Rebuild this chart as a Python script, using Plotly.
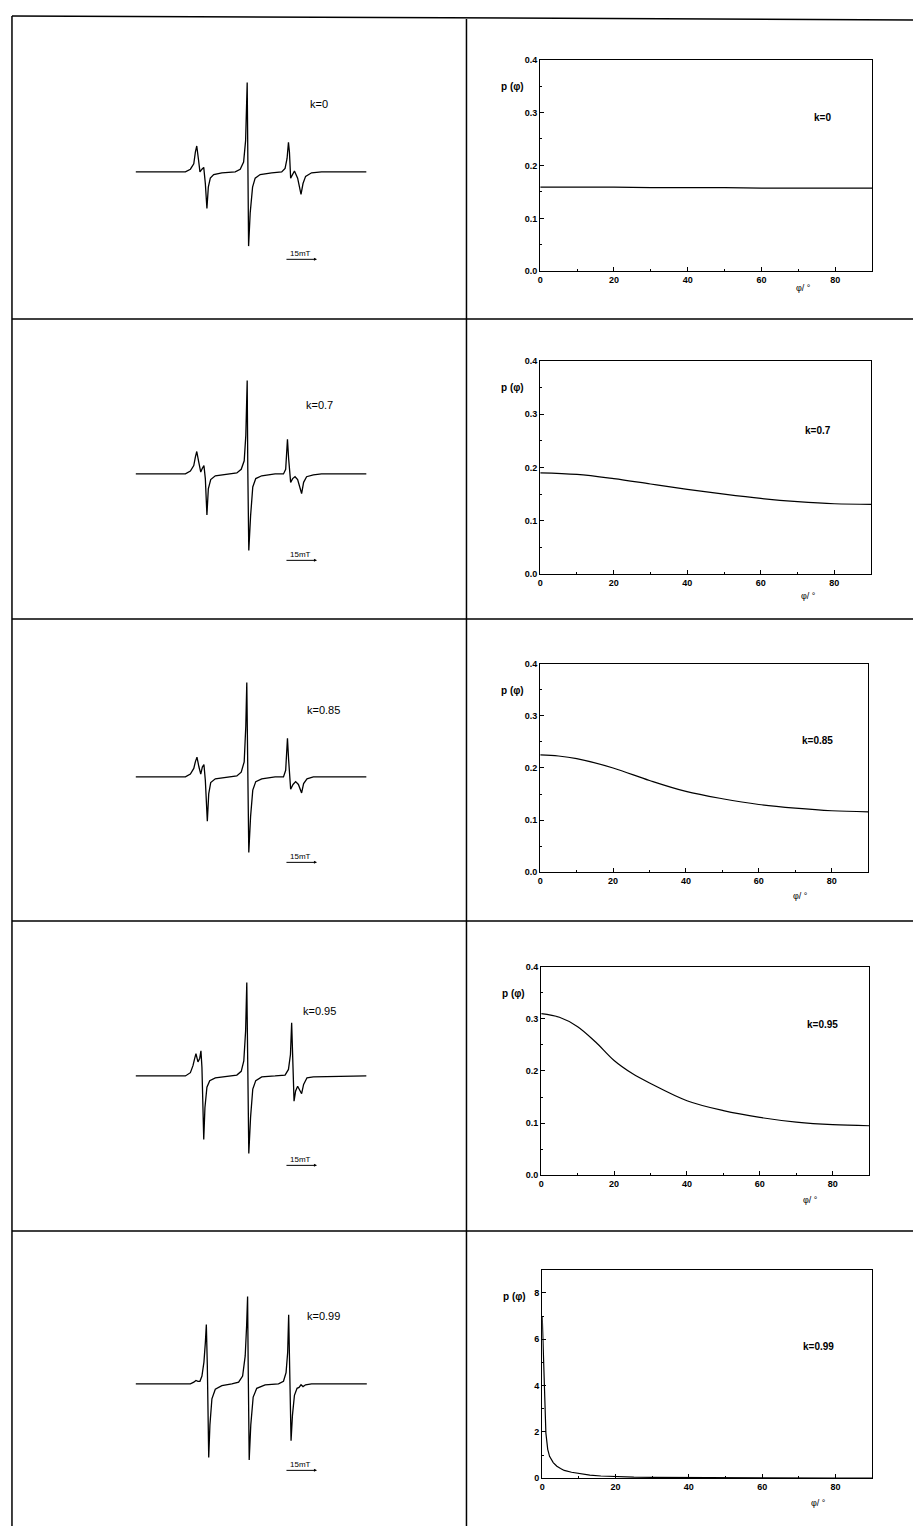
import plotly.graph_objects as go

W, H = 913, 1531

# ---------------- data ----------------
k_labels = ["k=0", "k=0.7", "k=0.85", "k=0.95", "k=0.99"]
scale_label = "15mT"

# EPR spectra (field in mT from left end, amplitude normalized to central peak)
spec_k0_B = [0, 2.5, 2.75, 2.92, 3.0, 3.07, 3.15, 3.23, 3.33, 3.42, 3.5, 3.58, 3.65, 3.75, 3.92, 4.33, 5.0,
             5.25, 5.42, 5.52, 5.6, 5.63, 5.67, 5.75, 5.87, 6.0, 6.25, 6.83, 7.33, 7.5, 7.6, 7.67, 7.72,
             7.78, 7.97, 8.13, 8.3, 8.4, 8.53, 8.83, 9.33, 11.58]
spec_k0_A = [0, 0, 0.03, 0.09, 0.22, 0.29, 0.15, 0.0, 0.03, 0.05, -0.13, -0.41, -0.17, -0.07, -0.03, -0.01, 0,
             0.03, 0.11, 0.35, 1.0, 0.09, -0.83, -0.46, -0.17, -0.07, -0.03, -0.01, 0, 0.04, 0.15, 0.33, 0.22,
             -0.07, 0.01, -0.07, -0.25, -0.13, -0.05, -0.01, 0, 0]

spec_k07_B = [0, 2.5, 2.75, 2.92, 3.0, 3.07, 3.17, 3.27, 3.35, 3.43, 3.5, 3.58, 3.65, 3.77, 4.0, 4.67, 5.08,
              5.3, 5.45, 5.53, 5.6, 5.63, 5.68, 5.77, 5.88, 6.03, 6.33, 7.0, 7.42, 7.53, 7.62, 7.68, 7.78,
              7.88, 8.0, 8.13, 8.33, 8.43, 8.58, 8.92, 9.33, 11.58]
spec_k07_A = [0, 0, 0.03, 0.09, 0.18, 0.24, 0.125, 0.02, 0.06, 0.09, -0.05, -0.44, -0.16, -0.06, -0.02, 0, 0.01,
              0.05, 0.14, 0.41, 1.0, 0.05, -0.82, -0.45, -0.14, -0.05, -0.02, 0, 0, 0.05, 0.37, 0.16, -0.09,
              -0.05, -0.03, -0.06, -0.21, -0.09, -0.03, -0.01, 0, 0]

spec_k085_B = [0, 2.5, 2.75, 2.92, 3.0, 3.08, 3.18, 3.27, 3.35, 3.43, 3.5, 3.6, 3.67, 3.77, 4.0, 4.67, 5.08,
               5.3, 5.45, 5.53, 5.58, 5.63, 5.68, 5.77, 5.88, 6.03, 6.33, 7.0, 7.42, 7.53, 7.62, 7.68, 7.78,
               7.9, 8.03, 8.17, 8.33, 8.43, 8.6, 8.92, 11.58]
spec_k085_A = [0, 0, 0.03, 0.09, 0.16, 0.21, 0.105, 0.03, 0.105, 0.13, -0.035, -0.47, -0.18, -0.06, -0.02, 0, 0.01,
               0.05, 0.16, 0.54, 1.0, 0.07, -0.8, -0.42, -0.14, -0.05, -0.02, 0, 0, 0.07, 0.41, 0.175, -0.13,
               -0.08, -0.05, -0.08, -0.17, -0.07, -0.02, 0, 0]

spec_k095_B = [0, 2.5, 2.75, 2.88, 2.97, 3.03, 3.13, 3.22, 3.28, 3.33, 3.42, 3.48, 3.58, 3.72, 4.0, 4.67, 5.08,
               5.3, 5.43, 5.52, 5.58, 5.63, 5.68, 5.77, 5.88, 6.03, 6.33, 7.0, 7.5, 7.67, 7.77, 7.83, 7.88,
               7.95, 8.03, 8.13, 8.23, 8.33, 8.43, 8.6, 8.92, 11.58]
spec_k095_A = [0, 0, 0.035, 0.11, 0.19, 0.24, 0.15, 0.19, 0.27, 0.09, -0.68, -0.34, -0.12, -0.05, -0.02, 0, 0.01,
               0.05, 0.16, 0.48, 1.0, 0.09, -0.83, -0.44, -0.14, -0.05, -0.01, 0, 0.01, 0.07, 0.23, 0.57, 0.19,
               -0.27, -0.16, -0.11, -0.15, -0.19, -0.09, -0.02, -0.01, 0]

spec_k099_B = [0, 2.75, 2.92, 3.03, 3.13, 3.23, 3.33, 3.43, 3.5, 3.55, 3.6, 3.67, 3.73, 3.83, 4.0, 4.33, 4.83,
               5.17, 5.37, 5.5, 5.57, 5.62, 5.65, 5.7, 5.78, 5.9, 6.08, 6.5, 7.17, 7.42, 7.55, 7.63, 7.68,
               7.73, 7.8, 7.87, 7.97, 8.1, 8.2, 8.3, 8.4, 8.53, 8.83, 11.67]
spec_k099_A = [0, 0, 0.02, 0.04, 0.03, 0.03, 0.09, 0.25, 0.47, 0.68, 0.21, -0.84, -0.47, -0.17, -0.06, -0.02, 0,
               0.02, 0.09, 0.32, 0.66, 1.0, 0.21, -0.87, -0.47, -0.15, -0.05, -0.01, 0, 0.03, 0.13, 0.36, 0.79,
               0.21, -0.65, -0.36, -0.13, -0.05, -0.04, -0.01, -0.03, -0.01, 0, 0]

# orientation distributions p(phi)
phi_k0 = [0, 10, 20, 30, 40, 50, 60, 70, 80, 90]
p_k0 = [0.159, 0.159, 0.159, 0.158, 0.158, 0.158, 0.157, 0.157, 0.157, 0.157]

phi_k07 = [0, 10, 20, 30, 40, 50, 60, 70, 80, 90]
p_k07 = [0.190, 0.187, 0.179, 0.169, 0.159, 0.150, 0.142, 0.136, 0.132, 0.131]

phi_k085 = [0, 5, 10, 20, 30, 40, 50, 60, 70, 80, 90]
p_k085 = [0.225, 0.223, 0.218, 0.200, 0.176, 0.155, 0.141, 0.130, 0.123, 0.118, 0.116]

phi_k095 = [0, 5, 10, 15, 20, 25, 30, 40, 50, 60, 70, 80, 90]
p_k095 = [0.310, 0.303, 0.285, 0.255, 0.220, 0.195, 0.176, 0.143, 0.124, 0.111, 0.102, 0.097, 0.095]

phi_k099 = [0, 0.25, 0.5, 0.75, 1, 1.5, 2, 3, 4, 5, 6, 8, 10, 13, 16, 20, 25, 30, 40, 50, 60, 70, 80, 90]
p_k099 = [7.0, 5.5, 3.8, 2.5, 1.95, 1.25, 0.95, 0.68, 0.52, 0.42, 0.34, 0.26, 0.20, 0.14, 0.10, 0.07, 0.05,
          0.04, 0.03, 0.02, 0.017, 0.015, 0.014, 0.014]

spectra = [(spec_k0_B, spec_k0_A), (spec_k07_B, spec_k07_A), (spec_k085_B, spec_k085_A),
           (spec_k095_B, spec_k095_A), (spec_k099_B, spec_k099_A)]
dists = [(phi_k0, p_k0), (phi_k07, p_k07), (phi_k085, p_k085), (phi_k095, p_k095), (phi_k099, p_k099)]

# ---------------- layout helpers ----------------
def px(x):
    return x / W

def py(y):
    return 1 - y / H

# left spectra: baseline pixel row & pixel per unit amplitude
spec_base = [168, 472, 777, 1078, 1388]
spec_scale = [90, 94, 95, 94, 88]
spec_x = (133, 365)
spec_lbl = [(317, 100), (318, 403), (322, 710), (318, 1013), (322, 1320)]
scale_y = [250, 553, 857, 1162, 1469]

# right plot boxes: (left, right, top, bottom)
boxes = [(539, 872, 55, 268), (539, 871, 358, 573), (539, 868, 663, 873),
         (540, 869, 968, 1178), (541, 872, 1273, 1483)]
rk_lbl = [(822, 113), (818, 428), (817, 740), (822, 1026), (818, 1350)]
xt_off = [17, 22, 24, 25, 25]
xt_x = [803, 808, 800, 810, 818]

fig = go.Figure()
layout = dict(width=W, height=H, margin=dict(l=0, r=0, t=0, b=0),
              paper_bgcolor="white", plot_bgcolor="white", showlegend=False)
annotations = []
shapes = []
fam = "Liberation Sans, Arial, sans-serif"

for i in range(5):
    # ---- spectrum subplot ----
    n = 2 * i + 1
    xa = "x" if n == 1 else f"x{n}"
    ya = "y" if n == 1 else f"y{n}"
    B, A = spectra[i]
    fig.add_trace(go.Scatter(x=B, y=A, mode="lines", line=dict(color="black", width=1.3),
                             xaxis=xa, yaxis=ya, hoverinfo="skip"))
    b, s = spec_base[i], spec_scale[i]
    top = b - 1.05 * s
    bot = b + 1.0 * s
    layout["xaxis" if n == 1 else f"xaxis{n}"] = dict(domain=[px(spec_x[0]), px(spec_x[1])],
                                                      range=[0, 11.6], visible=False, anchor=ya)
    layout["yaxis" if n == 1 else f"yaxis{n}"] = dict(domain=[py(bot), py(top)],
                                                      range=[-1.0, 1.05], visible=False, anchor=xa)
    annotations.append(dict(x=px(spec_lbl[i][0]), y=py(spec_lbl[i][1]), xref="paper", yref="paper",
                            text=k_labels[i], showarrow=False, xanchor="center", yanchor="middle",
                            font=dict(family=fam, size=11, color="black")))
    sy = scale_y[i]
    annotations.append(dict(x=px(298), y=py(sy), xref="paper", yref="paper", text=scale_label,
                            showarrow=False, xanchor="center", yanchor="middle",
                            font=dict(family=fam, size=8, color="black")))
    annotations.append(dict(x=px(315), y=py(sy + 6), xref="paper", yref="paper", text="",
                            showarrow=True, ax=-32, ay=0, arrowhead=2, arrowsize=0.6,
                            arrowwidth=1, arrowcolor="black"))

    # ---- distribution subplot ----
    m = 2 * i + 2
    xa2, ya2 = f"x{m}", f"y{m}"
    phi, p = dists[i]
    fig.add_trace(go.Scatter(x=phi, y=p, mode="lines",
                             line=dict(color="black", width=1.2, shape="spline" if i < 4 else "linear"),
                             xaxis=xa2, yaxis=ya2, hoverinfo="skip"))
    l, r, t, bb = boxes[i]
    axcommon = dict(showline=True, linecolor="black", linewidth=1.2, mirror=True, showgrid=False,
                    zeroline=False, ticks="inside", ticklen=4, tickwidth=1, tickcolor="black",
                    tickfont=dict(family=fam, size=9, color="black", weight="bold"))
    layout[f"xaxis{m}"] = dict(domain=[px(l), px(r)], range=[0, 90], tickvals=[0, 20, 40, 60, 80],
                               minor=dict(tickvals=[10, 30, 50, 70, 90], ticks="inside", ticklen=2,
                                          tickcolor="black"),
                               anchor=ya2, **axcommon)
    if i < 4:
        yt = dict(range=[0, 0.4], tickvals=[0, 0.1, 0.2, 0.3, 0.4], tickformat=".1f",
                  minor=dict(tickvals=[0.05, 0.15, 0.25, 0.35], ticks="inside", ticklen=2, tickcolor="black"))
    else:
        yt = dict(range=[0, 9], tickvals=[0, 2, 4, 6, 8],
                  minor=dict(tickvals=[1, 3, 5, 7], ticks="inside", ticklen=2, tickcolor="black"))
    layout[f"yaxis{m}"] = dict(domain=[py(bb), py(t)], anchor=xa2, **yt, **axcommon)

    annotations.append(dict(x=px(l - 28), y=py(t + 27), xref="paper", yref="paper", text="p (φ)",
                            showarrow=False, xanchor="center", yanchor="middle",
                            font=dict(family=fam, size=10, color="black", weight="bold")))
    annotations.append(dict(x=px(xt_x[i]), y=py(bb + xt_off[i]), xref="paper", yref="paper",
                            text="φ/ °", showarrow=False, xanchor="center", yanchor="middle",
                            font=dict(family=fam, size=9, color="black")))
    annotations.append(dict(x=px(rk_lbl[i][0]), y=py(rk_lbl[i][1]), xref="paper", yref="paper",
                            text=k_labels[i], showarrow=False, xanchor="center", yanchor="middle",
                            font=dict(family=fam, size=10, color="black", weight="bold")))

# table lines
line_style = dict(color="black", width=1.5)
shapes.append(dict(type="line", xref="paper", yref="paper", x0=px(9), y0=py(11), x1=px(913), y1=py(15),
                   line=line_style))
shapes.append(dict(type="line", xref="paper", yref="paper", x0=px(9), y0=py(11), x1=px(9), y1=py(1531),
                   line=line_style))
shapes.append(dict(type="line", xref="paper", yref="paper", x0=px(465), y0=py(14), x1=px(465), y1=py(1531),
                   line=line_style))
for yy in [316, 618, 922, 1234]:
    shapes.append(dict(type="line", xref="paper", yref="paper", x0=px(9), y0=py(yy), x1=px(913), y1=py(yy),
                       line=line_style))

layout["annotations"] = annotations
layout["shapes"] = shapes
fig.update_layout(**layout)
fig.write_html("out.html", config={"displayModeBar": False},
               post_script="document.body.style.margin='0';document.body.style.padding='0';")
